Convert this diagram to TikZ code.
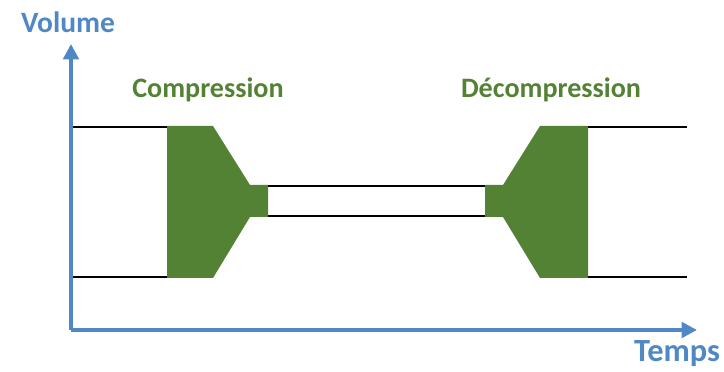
\documentclass[tikz,border=0pt]{standalone}
\usepackage{fontspec}
\setmainfont{Carlito}
\usepackage{tikz}
\usepackage{xcolor}
\usetikzlibrary{arrows.meta,positioning}

\definecolor{axisblue}{RGB}{80,136,198}
\definecolor{cgreen}{RGB}{84,130,53}

\tikzset{
  axis/.style = {draw=axisblue, line width=3pt, -{Triangle[length=11pt,width=11pt]}},
  tube/.style = {line width=2pt, black},
  valve/.style = {fill=cgreen, draw=none},
  axislabel/.style = {text=axisblue, font=\fontsize{23}{26}\selectfont\bfseries, anchor=base},
  steplabel/.style = {text=cgreen, font=\fontsize{20}{24}\selectfont\bfseries, anchor=base}
}

\begin{document}
\begin{tikzpicture}[x=0.025cm, y=-0.025cm]
\useasboundingbox (0,0) rectangle (724,372);
% axes
\coordinate (O) at (71,330);
\coordinate (ytip) at (71,44);
\coordinate (xtip) at (697,330);
\draw[axis] (O) -- (ytip);
\draw[axis] (O) -- (xtip);
\node[axislabel, font=\fontsize{21}{24}\selectfont\bfseries] (vol) at (68,33) {Volume};
\node[axislabel] (temps) at (677,362) {Temps};
% tubes
\draw[tube] (73,127) -- (170,127);
\draw[tube] (73,277) -- (170,277);
\draw[tube] (265,186) -- (488,186);
\draw[tube] (265,216) -- (488,216);
\draw[tube] (585,127) -- (687,127);
\draw[tube] (585,277) -- (687,277);
% compression
\fill[valve] (167,126) -- (213,126) -- (250,185) -- (268,185) -- (268,217)
  -- (250,217) -- (213,278) -- (167,278) -- cycle;
% decompression
\fill[valve] (588,126) -- (540,126) -- (503,185) -- (485,185) -- (485,217)
  -- (503,217) -- (540,278) -- (588,278) -- cycle;
\node[steplabel] (comp) at (208,98) {Compression};
\node[steplabel] (decomp) at (551,98) {Décompression};
\end{tikzpicture}
\end{document}
